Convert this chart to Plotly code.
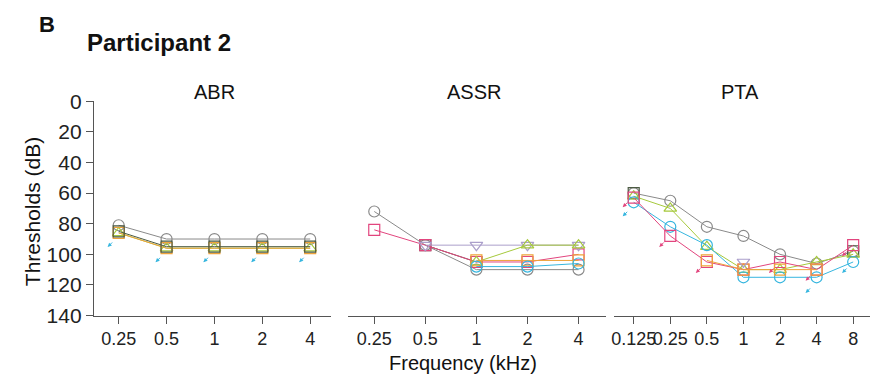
import plotly.graph_objects as go

W, H = 871, 382

# ---------------- data ----------------
abr_freqs = ["0.25", "0.5", "1", "2", "4"]
assr_freqs = ["0.25", "0.5", "1", "2", "4"]
pta_freqs = ["0.125", "0.25", "0.5", "1", "2", "4", "8"]

# series: (colour, symbol)
series_style = {
    "s1": ("#8a8a8a", "circle-open"),
    "s2": ("#4b5a42", "square-open"),
    "s3": ("#e2457e", "square-open"),
    "s4": ("#a6c93c", "triangle-up-open"),
    "s5": ("#36b6df", "circle-open"),
    "s6": ("#ab9fcb", "triangle-down-open"),
    "s7": ("#eea23a", "square-open"),
}

abr_values = {
    "s1": [81, 90, 90, 90, 90],
    "s4": [86, 96, 96, 96, 96],
    "s7": [86, 96, 96, 96, 96],
    "s2": [85, 95, 95, 95, 95],
}
assr_values = {
    "s1": [72, 94, 110, 110, 110],
    "s2": [None, 94, 105, None, None],
    "s3": [84, 94, 105, 105, 100],
    "s6": [None, 94, 94, 94, 94],
    "s4": [None, None, 105, 94, 94],
    "s7": [None, None, 104, 104, 104],
    "s5": [None, None, 108, 108, 106],
}
pta_values = {
    "s1": [60, 65, 82, 88, 100, 106, 98],
    "s2": [60, None, None, None, None, None, 98],
    "s4": [62, 70, 95, 110, 110, 105, 100],
    "s5": [66, 82, 94, 115, 115, 115, 105],
    "s3": [63, 88, 105, 110, 105, 110, 94],
    "s7": [None, None, 104, 110, 110, 110, None],
    "s6": [None, None, None, 105, None, None, None],
}

# no-response arrows (threshold at which the arrow starts)
abr_nr = {"s5": [88, 98, 98, 98, 98]}
pta_nr = {
    "s3": [62, 88, 105, None, 105, 110, 94],
    "s5": [68, None, None, None, None, 118, 105],
}

# ---------------- figure ----------------
fig = go.Figure()

def px_x(p):
    return p / W

def px_y(p):
    return 1 - p / H

panels = [
    ("x", "y", abr_freqs, abr_values),
    ("x2", "y2", assr_freqs, assr_values),
    ("x3", "y3", pta_freqs, pta_values),
]

for xa, ya, freqs, vals in panels:
    for key, yv in vals.items():
        col, sym = series_style[key]
        fig.add_trace(go.Scatter(
            x=list(range(len(freqs))), y=yv, xaxis=xa, yaxis=ya,
            mode="lines+markers", connectgaps=False,
            line=dict(color=col, width=1),
            marker=dict(symbol=sym, size=11, color=col, line=dict(width=1.2, color=col)),
            showlegend=False, hoverinfo="skip",
        ))

annotations = []

def add_nr(xref, yref, nr):
    for key, yv in nr.items():
        col = series_style[key][0]
        for i, v in enumerate(yv):
            if v is None:
                continue
            annotations.append(dict(
                x=i, y=v, xref=xref, yref=yref, text="", showarrow=True,
                ax=6, ay=-6, xshift=-11, yshift=-11,
                arrowhead=2, arrowsize=0.8, arrowwidth=1, arrowcolor=col,
            ))

add_nr("x", "y", abr_nr)
add_nr("x3", "y3", pta_nr)

font_family = "Liberation Sans, Arial, sans-serif"

y_dom = [px_y(323), px_y(95)]
axis_common = dict(showgrid=False, zeroline=False, showline=True, linecolor="#555",
                   linewidth=1, ticks="outside", ticklen=7, tickcolor="#555")
xtick_font = dict(family=font_family, size=18, color="#222")
ytick_font = dict(family=font_family, size=21, color="#222")

fig.update_layout(
    width=W, height=H, margin=dict(l=0, r=0, t=0, b=0),
    paper_bgcolor="white", plot_bgcolor="white",
    xaxis=dict(domain=[px_x(92), px_x(330)], range=[-0.52, 4.44], anchor="y",
               tickvals=list(range(5)), ticktext=abr_freqs, tickangle=0,
               tickfont=xtick_font, **axis_common),
    xaxis2=dict(domain=[px_x(347), px_x(605)], range=[-0.51, 4.53], anchor="y2",
                tickvals=list(range(5)), ticktext=assr_freqs, tickangle=0,
                tickfont=xtick_font, **axis_common),
    xaxis3=dict(domain=[px_x(613), px_x(870)], range=[-0.55, 6.46], anchor="y3",
                tickvals=list(range(7)), ticktext=pta_freqs, tickangle=0,
                tickfont=xtick_font, **axis_common),
    yaxis=dict(domain=y_dom, range=[140, 0], anchor="x",
               tickvals=list(range(0, 141, 20)), tickfont=ytick_font, **axis_common),
    yaxis2=dict(domain=y_dom, range=[140, 0], anchor="x2", visible=False),
    yaxis3=dict(domain=y_dom, range=[140, 0], anchor="x3", visible=False),
)

def text_ann(t, x, y, size, bold=False, angle=0, xanchor="center"):
    return dict(text=f"<b>{t}</b>" if bold else t, x=px_x(x), y=px_y(y),
                xref="paper", yref="paper", showarrow=False, textangle=angle,
                xanchor=xanchor, yanchor="middle",
                font=dict(family=font_family, size=size, color="#111"))

annotations += [
    text_ann("B", 45, 13, 22, bold=True),
    text_ann("Participant 2", 157, 32, 24, bold=True),
    text_ann("ABR", 213, 85, 20),
    text_ann("ASSR", 473, 85, 20),
    text_ann("PTA", 740, 85, 20),
    text_ann("Thresholds (dB)", 30, 212, 21, angle=-90),
    text_ann("Frequency (kHz)", 462, 373, 20),
]
fig.update_layout(annotations=annotations)

fig.write_html("out.html")
